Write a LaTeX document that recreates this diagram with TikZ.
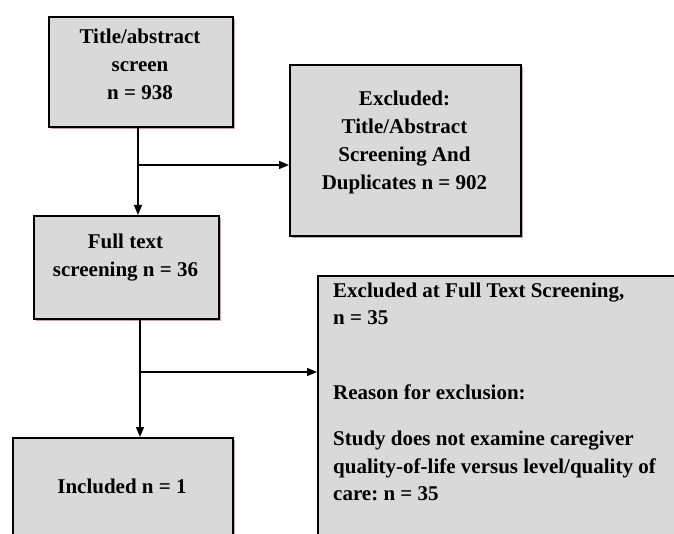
\documentclass[tikz,border=0pt]{standalone}
\usepackage{fontspec}
\setmainfont{Liberation Serif}
\usetikzlibrary{arrows.meta,shadows}
\definecolor{boxfill}{RGB}{217,217,217}
\definecolor{shcol}{RGB}{200,165,165}
\begin{document}
\frenchspacing
\begin{tikzpicture}[x=1pt,y=-1pt,
  box/.style={draw=black,line width=1.8pt,fill=boxfill,rectangle,inner sep=0pt,
    general shadow={fill=shcol,shadow xshift=2pt,shadow yshift=-2.5pt}},
  txt/.style={font=\fontsize{21}{28}\selectfont\bfseries,inner sep=0pt,align=center,anchor=north},
  ltxt/.style={font=\fontsize{21}{27.5}\selectfont\bfseries,inner sep=0pt,align=left,anchor=north west},
  arr/.style={line width=1.3pt,-{Triangle[length=10pt,width=8pt]}},
  ln/.style={line width=1.3pt}]
\useasboundingbox (0,0) rectangle (674,534);
\clip (0,0) rectangle (674,534);
\fill[white] (0,0) rectangle (674,534);
% boxes
\node[box,minimum width=184pt,minimum height=110pt,anchor=north west] (b1) at (48,16) {};
\node[box,minimum width=231pt,minimum height=171pt,anchor=north west] (b2) at (289,64) {};
\node[box,minimum width=185pt,minimum height=103pt,anchor=north west] (b3) at (33,215) {};
\node[box,minimum width=220pt,minimum height=130pt,anchor=north west] (b4) at (12,437) {};
\node[box,minimum width=400pt,minimum height=300pt,anchor=north west] (b5) at (317,275) {};
% texts
\node[txt] (t1) at (140,28.7) {Title/abstract\\screen\\n = 938};
\node[txt] (t2) at (404.5,90.7) {Excluded:\\Title/Abstract\\Screening And\\Duplicates n = 902};
\node[txt] (t3) at (125.5,233.7) {Full text\\screening n = 36};
\node[txt] (t4) at (122,478.7) {Included n = 1};
\node[ltxt] (t5) at (333,282.7) {Excluded at Full Text Screening,\\n = 35\\[47.5pt]Reason for exclusion:\\[18.5pt]Study does not examine caregiver\\quality-of-life versus level/quality of\\care: n = 35};
% connectors
\coordinate (j1) at (138,165);
\coordinate (j2) at (140,372);
\draw[arr] (b1.south -| j1) -- (b3.north -| j1);
\draw[arr] (j1) -- (b2.west |- j1);
\draw[arr] (b3.south -| j2) -- (b4.north -| j2);
\draw[arr] (j2) -- (b5.west |- j2);
\end{tikzpicture}
\end{document}
